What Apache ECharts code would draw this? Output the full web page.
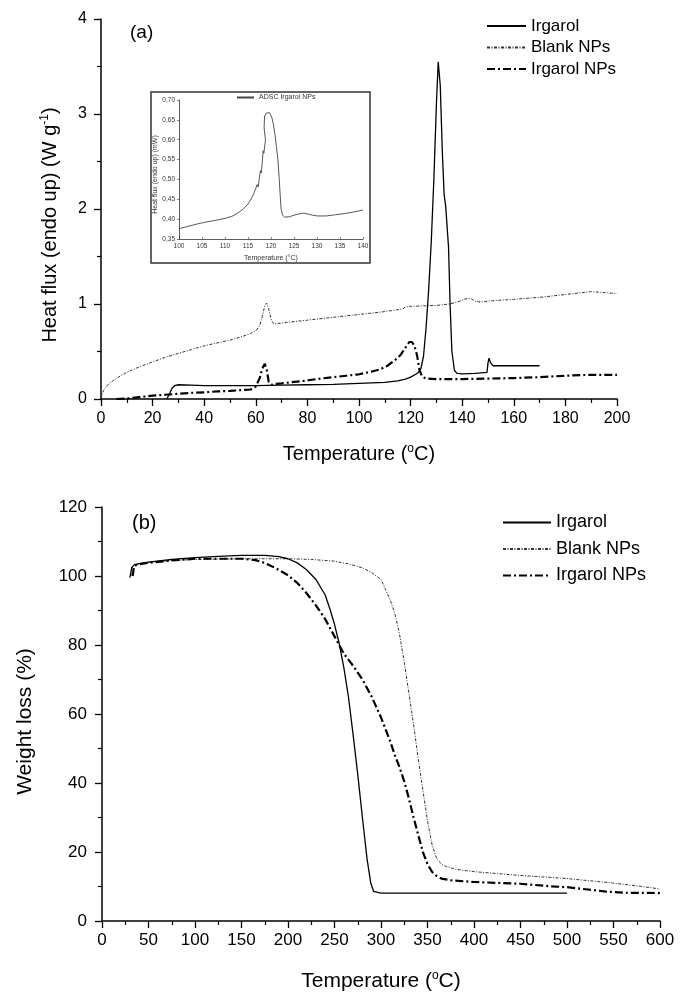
<!DOCTYPE html>
<html>
<head>
<meta charset="utf-8">
<script src="https://cdn.jsdelivr.net/npm/echarts@6/dist/echarts.min.js"></script>
<style>
html,body{margin:0;padding:0;background:#fff;}
#chart{width:687px;height:1000px;}
</style>
</head>
<body>
<div id="chart"></div>
<script>
// ---------- (a) DSC ----------
var dscIrgarolT = [25.5, 26.5, 27.5, 28.5, 30, 35, 40, 50, 60, 70, 80, 90, 100, 110, 115, 118, 120, 122, 123, 124, 125, 126, 127, 128, 129, 130, 130.7, 131.5, 132.3, 133, 133.6, 134.2, 134.7, 135.3, 136, 137, 138, 140, 145, 149.6, 150, 150.4, 151, 152, 155, 160, 165, 170];
var dscIrgarolV = [0, 0.05, 0.11, 0.14, 0.15, 0.145, 0.14, 0.14, 0.14, 0.145, 0.15, 0.155, 0.165, 0.175, 0.19, 0.21, 0.23, 0.26, 0.28, 0.32, 0.45, 0.75, 1.15, 1.65, 2.3, 3.1, 3.55, 3.3, 2.6, 2.15, 2.03, 2.05, 1.6, 1.0, 0.5, 0.3, 0.27, 0.265, 0.27, 0.28, 0.38, 0.43, 0.38, 0.35, 0.35, 0.35, 0.35, 0.35];

var dscBlankT = [0, 0.5, 1, 2, 3, 5, 8, 10, 15, 20, 25, 30, 35, 40, 45, 50, 55, 58, 60, 61.5, 62.5, 63.5, 64.2, 65, 66, 67, 70, 80, 90, 100, 110, 115, 117, 118, 120, 125, 130, 135, 138, 140, 142, 143.5, 145, 147, 150, 160, 170, 180, 185, 190, 195, 200];
var dscBlankV = [0, 0.05, 0.09, 0.13, 0.16, 0.2, 0.25, 0.28, 0.34, 0.39, 0.44, 0.48, 0.52, 0.56, 0.59, 0.62, 0.66, 0.69, 0.72, 0.77, 0.87, 0.98, 1.01, 0.95, 0.83, 0.79, 0.8, 0.83, 0.86, 0.89, 0.92, 0.94, 0.95, 0.97, 0.975, 0.98, 0.985, 1.0, 1.02, 1.04, 1.06, 1.055, 1.03, 1.02, 1.03, 1.05, 1.07, 1.1, 1.115, 1.13, 1.12, 1.11];

var dscNpT = [6, 10, 15, 20, 25, 30, 35, 40, 45, 50, 55, 58, 60, 61.5, 62.5, 63.5, 64.3, 65, 66, 68, 70, 75, 80, 85, 90, 95, 100, 105, 108, 111, 114, 116, 118, 119.5, 120.5, 121.5, 122.5, 123.5, 124.5, 126, 130, 140, 150, 160, 170, 180, 190, 200];
var dscNpV = [0, 0.005, 0.02, 0.035, 0.045, 0.055, 0.065, 0.07, 0.08, 0.085, 0.095, 0.1, 0.13, 0.22, 0.32, 0.37, 0.3, 0.18, 0.15, 0.16, 0.165, 0.18, 0.195, 0.215, 0.23, 0.245, 0.26, 0.29, 0.31, 0.35, 0.41, 0.46, 0.54, 0.6, 0.6, 0.56, 0.46, 0.3, 0.235, 0.215, 0.21, 0.21, 0.215, 0.22, 0.23, 0.245, 0.255, 0.255];

// ---------- inset ADSC ----------
var adscT = [100, 102, 104, 106, 108, 110, 111.5, 113, 114, 115, 115.5, 115.7, 116.2, 116.4, 117.0, 117.2, 117.7, 117.9, 118.3, 118.45, 118.8, 118.5, 118.6, 119, 119.7, 120, 120.2, 120.5, 120.9, 121.2, 121.5, 121.8, 122, 122.2, 122.5, 123, 124, 125, 126, 127, 128, 129, 130, 132, 134, 136, 138, 140];
var adscV = [0.376, 0.382, 0.388, 0.393, 0.397, 0.402, 0.407, 0.417, 0.426, 0.438, 0.447, 0.442, 0.463, 0.458, 0.487, 0.481, 0.522, 0.516, 0.572, 0.566, 0.6, 0.63, 0.66, 0.667, 0.668, 0.665, 0.655, 0.64, 0.61, 0.58, 0.55, 0.5, 0.46, 0.425, 0.41, 0.405, 0.406, 0.41, 0.413, 0.415, 0.413, 0.41, 0.408, 0.408, 0.411, 0.414, 0.418, 0.423];

// ---------- (b) TGA ----------
var tgaIrgarolT = [30, 31, 32, 33, 35, 40, 50, 75, 100, 125, 150, 175, 190, 200, 210, 220, 230, 240, 245, 250, 255, 260, 265, 270, 275, 280, 285, 289, 292, 294, 300, 350, 400, 450, 500];
var tgaIrgarolV = [99.5, 101, 102.5, 103, 103.3, 103.6, 104, 104.8, 105.3, 105.7, 106, 106, 105.6, 105, 103.8, 101.8, 99, 94.5, 90.5, 86, 80.5, 73.5, 65, 54, 42.5, 30, 18, 11, 8.6, 8.2, 8.1, 8.1, 8.1, 8.1, 8.1];

var tgaBlankT = [31, 32, 33, 35, 40, 50, 75, 100, 150, 200, 225, 250, 265, 280, 290, 300, 305, 310, 315, 320, 325, 330, 335, 340, 345, 350, 355, 360, 365, 370, 380, 400, 450, 500, 550, 580, 600];
var tgaBlankV = [100, 102, 103, 103.3, 103.6, 104, 104.5, 104.8, 105, 105, 104.8, 104.3, 103.5, 102.4, 101, 99, 96, 93, 89, 83, 75, 66, 57, 47, 38, 29, 22, 18, 16.5, 15.8, 15, 14.3, 13.2, 12.3, 11, 10, 9.3];

var tgaNpT = [33, 34, 35, 40, 50, 75, 100, 125, 150, 165, 175, 185, 195, 200, 210, 220, 230, 240, 250, 255, 260, 270, 280, 290, 295, 300, 305, 310, 315, 320, 325, 330, 335, 340, 345, 350, 355, 360, 365, 375, 400, 450, 480, 500, 520, 540, 560, 600];
var tgaNpV = [100, 102, 103, 103.4, 103.8, 104.5, 105, 105, 105, 104.6, 103.8, 102.5, 101, 100.2, 98, 95, 91.5, 87.5, 82.5, 80, 77.5, 74, 70, 65, 62, 59, 55.5, 52, 48, 44.5, 40.5, 35.5, 30, 25, 20, 16.5, 14.2, 13, 12.3, 11.8, 11.3, 10.8, 10.1, 9.8, 9.2, 8.6, 8.2, 8.1];

var seriesNames = ['Irgarol', 'Blank NPs', 'Irgarol NPs'];
var insetName = 'ADSC Irgarol NPs';

function zip(a, b) { return a.map(function (x, i) { return [x, b[i]]; }); }

var FONT = 'Liberation Sans, Arial, sans-serif';
var styleIrgarol = { color: '#000', width: 1.3, type: 'solid' };
var styleBlank = { color: '#333', width: 1, type: [3, 1.5, 1, 1.5] };
var styleNp = { color: '#000', width: 2.2, type: [8, 3, 2, 3] };

function supRich() {
  return { sup: { fontFamily: FONT, fontSize: 12, color: '#000', padding: [0, 0, 10, 0] } };
}
function mkX(gi, min, max, interval, fs, margin, name, gap, nfs) {
  return {
    gridIndex: gi, type: 'value', min: min, max: max, interval: interval,
    axisLine: { show: true, onZero: false, lineStyle: { color: '#000', width: 1.5 } },
    axisTick: { show: true, inside: false, length: 7, lineStyle: { color: '#000', width: 1.3 } },
    minorTick: { show: true, splitNumber: 2, length: 4, lineStyle: { color: '#000', width: 1.2 } },
    splitLine: { show: false },
    axisLabel: { fontFamily: FONT, fontSize: fs, color: '#000', margin: margin },
    name: name, nameLocation: 'middle', nameGap: gap,
    nameTextStyle: { fontFamily: FONT, fontSize: nfs, color: '#000', rich: supRich() }
  };
}
function mkY(gi, min, max, interval, fs, margin, name, gap, pad, nfs) {
  return {
    gridIndex: gi, type: 'value', min: min, max: max, interval: interval,
    axisLine: { show: true, onZero: false, lineStyle: { color: '#000', width: 1.5 } },
    axisTick: { show: true, inside: false, length: 7, lineStyle: { color: '#000', width: 1.3 } },
    minorTick: { show: true, splitNumber: 2, length: 4, lineStyle: { color: '#000', width: 1.2 } },
    splitLine: { show: false },
    axisLabel: { fontFamily: FONT, fontSize: fs, color: '#000', margin: margin },
    name: name, nameLocation: 'middle', nameGap: gap,
    nameTextStyle: { fontFamily: FONT, fontSize: nfs, color: '#000', padding: pad, rich: supRich() }
  };
}

var xA = mkX(0, 0, 200, 20, 16, 12, 'Temperature ({sup|o}C)', 44, 20);
var xB = mkX(2, 0, 600, 50, 17, 11, 'Temperature ({sup|o}C)', 49, 21);
var yA = mkY(0, 0, 4, 1, 16, 14, 'Heat flux (endo up) (W g{sup|-1})', 40, [0, 32, 0, 0], 20);
var yB = mkY(2, 0, 120, 20, 17, 15, 'Weight loss (%)', 66, [0, 15, 0, 0], 21);

var xIn = {
  gridIndex: 1, type: 'value', min: 100, max: 140, interval: 5,
  axisLine: { show: true, onZero: false, lineStyle: { color: '#333', width: 0.8 } },
  axisTick: { show: true, inside: true, length: 2, lineStyle: { color: '#333', width: 0.6 } },
  splitLine: { show: false },
  axisLabel: { fontFamily: FONT, fontSize: 6.5, color: '#333', margin: 4 },
  name: 'Temperature (\u00B0C)', nameLocation: 'middle', nameGap: 16,
  nameTextStyle: { fontFamily: FONT, fontSize: 7, color: '#333' }
};
var yIn = {
  gridIndex: 1, type: 'value', min: 0.35, max: 0.70, interval: 0.05,
  axisLine: { show: true, onZero: false, lineStyle: { color: '#333', width: 0.8 } },
  axisTick: { show: true, inside: false, length: 2, lineStyle: { color: '#333', width: 0.6 } },
  splitLine: { show: false },
  axisLabel: { fontFamily: FONT, fontSize: 6.5, color: '#333', margin: 4,
    formatter: function (v) { return v.toFixed(2).replace('.', ','); } },
  name: 'Heat flux (endo up) (mW)', nameLocation: 'middle', nameGap: 19,
  nameTextStyle: { fontFamily: FONT, fontSize: 7, color: '#333', padding: [0, 10, 0, 0] }
};

function line(name, xi, data, ls, z) {
  return { name: name, type: 'line', xAxisIndex: xi, yAxisIndex: xi, data: data,
    showSymbol: false, symbol: 'none', smooth: false, lineStyle: ls, itemStyle: { color: ls.color },
    animation: false, z: z || 2 };
}

var option = {
  backgroundColor: '#fff',
  animation: false,
  grid: [
    { left: 101, top: 19, width: 516, height: 380 },
    { left: 179, top: 100, width: 184, height: 139 },
    { left: 102, top: 507, width: 558, height: 414 }
  ],
  xAxis: [xA, xIn, xB],
  yAxis: [yA, yIn, yB],
  legend: [
    { orient: 'vertical', left: 486, top: 17.5, padding: 0, itemWidth: 39, itemHeight: 10, itemGap: 4.5,
      data: seriesNames, textStyle: { fontFamily: FONT, fontSize: 17, color: '#000' },
      itemStyle: { opacity: 0 }, selectedMode: false },
    { orient: 'vertical', left: 502, top: 513.5, padding: 0, itemWidth: 48, itemHeight: 10, itemGap: 8.5,
      data: seriesNames, textStyle: { fontFamily: FONT, fontSize: 18, color: '#000' },
      itemStyle: { opacity: 0 }, selectedMode: false },
    { orient: 'horizontal', left: 236, top: 94, padding: 0, itemWidth: 17, itemHeight: 8, itemGap: 4,
      data: [insetName], textStyle: { fontFamily: FONT, fontSize: 7, color: '#333' },
      itemStyle: { opacity: 0 }, selectedMode: false }
  ],
  graphic: [
    { type: 'rect', shape: { x: 151, y: 92, width: 219, height: 171 },
      style: { fill: 'none', stroke: '#333', lineWidth: 1.5 }, z: 100 },
    { type: 'text', x: 130, y: 23, style: { text: '(a)', fontFamily: FONT, fontSize: 19, fill: '#000' } },
    { type: 'text', x: 132, y: 513, style: { text: '(b)', fontFamily: FONT, fontSize: 20, fill: '#000' } }
  ],
  series: [
    line(seriesNames[0], 0, zip(dscIrgarolT, dscIrgarolV), styleIrgarol, 3),
    line(seriesNames[1], 0, zip(dscBlankT, dscBlankV), styleBlank),
    line(seriesNames[2], 0, zip(dscNpT, dscNpV), styleNp),
    line(insetName, 1, zip(adscT, adscV), { color: '#444', width: 0.9, type: 'solid' }),
    line(seriesNames[0], 2, zip(tgaIrgarolT, tgaIrgarolV), styleIrgarol, 3),
    line(seriesNames[1], 2, zip(tgaBlankT, tgaBlankV), styleBlank),
    line(seriesNames[2], 2, zip(tgaNpT, tgaNpV), styleNp)
  ]
};

var chart = echarts.init(document.getElementById('chart'), null, { renderer: 'canvas' });
chart.setOption(option);
</script>
</body>
</html>
